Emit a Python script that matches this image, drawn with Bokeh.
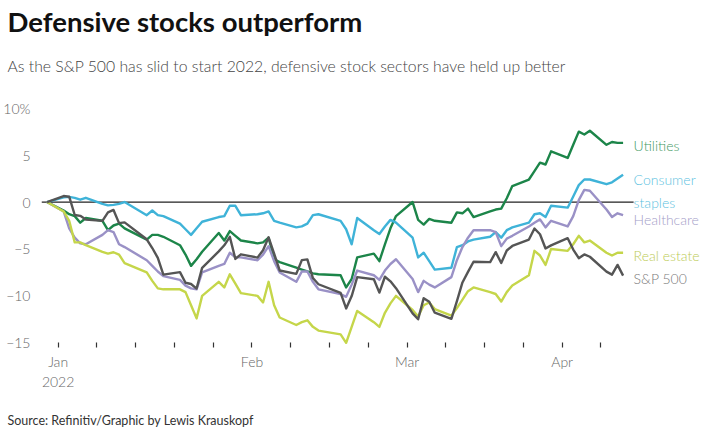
import pandas as pd
from bokeh.plotting import figure
from bokeh.models import FixedTicker, Range1d, Title, ColumnDataSource
from bokeh.core.properties import value
from bokeh.embed import file_html
from bokeh.resources import INLINE

# ---------------- data ----------------
dates = [
    "2021-12-31",
    "2022-01-03", "2022-01-04", "2022-01-05", "2022-01-06", "2022-01-07",
    "2022-01-10", "2022-01-11", "2022-01-12", "2022-01-13", "2022-01-14",
    "2022-01-18", "2022-01-19", "2022-01-20", "2022-01-21",
    "2022-01-24", "2022-01-25", "2022-01-26", "2022-01-27", "2022-01-28",
    "2022-01-31",
    "2022-02-01", "2022-02-02", "2022-02-03", "2022-02-04",
    "2022-02-07", "2022-02-08", "2022-02-09", "2022-02-10", "2022-02-11",
    "2022-02-14", "2022-02-15", "2022-02-16", "2022-02-17", "2022-02-18",
    "2022-02-22", "2022-02-23", "2022-02-24", "2022-02-25",
    "2022-02-28",
    "2022-03-01", "2022-03-02", "2022-03-03", "2022-03-04",
    "2022-03-07", "2022-03-08", "2022-03-09", "2022-03-10", "2022-03-11",
    "2022-03-14", "2022-03-15", "2022-03-16", "2022-03-17", "2022-03-18",
    "2022-03-21", "2022-03-22", "2022-03-23", "2022-03-24", "2022-03-25",
    "2022-03-28", "2022-03-29", "2022-03-30", "2022-03-31",
    "2022-04-01",
    "2022-04-04", "2022-04-05", "2022-04-06", "2022-04-07", "2022-04-08",
    "2022-04-11", "2022-04-12", "2022-04-13", "2022-04-14",
]

utilities = [
    0.0,
    -0.9, -1.3, -1.5, -2.2, -1.7,
    -2.0, -3.0, -2.5, -2.3, -2.8,
    -4.0, -3.5, -3.5, -3.7,
    -4.6, -5.6, -6.8, -6.1, -5.3,
    -3.3,
    -4.1, -3.1, -3.6, -4.1,
    -4.4, -4.3, -3.8, -6.1, -6.4,
    -7.0, -7.2, -7.4, -7.6, -7.7,
    -7.8, -9.1, -8.2, -5.9,
    -5.5,
    -6.3, -4.5, -2.8, -1.5,
    0.0, -1.9, -2.4, -1.8, -2.0,
    -2.2, -1.1, -1.2, -0.7, -1.6,
    -1.0, -0.8, -0.7, 0.4, 1.7,
    2.4, 3.3, 4.2, 4.0,
    5.4,
    4.7, 6.1, 7.5, 7.2, 7.6,
    6.1, 6.4, 6.3, 6.3,
]

consumer_staples = [
    0.0,
    0.5, 0.55, 0.45, 0.25, 0.45,
    -0.2, -0.35, -0.3, -0.2, 0.0,
    -1.4, -0.9, -1.4, -1.5,
    -2.3, -2.9, -3.5, -2.8, -2.1,
    -1.6,
    -1.5, -0.4, -0.4, -1.4,
    -1.3, -1.2, -1.0, -2.0, -2.2,
    -2.7, -2.6, -2.3, -1.4, -1.3,
    -2.0, -2.9, -4.5, -1.7,
    -3.0,
    -3.4, -2.6, -1.9, -2.2,
    -3.8, -5.9, -5.4, -6.3, -7.2,
    -7.0, -4.8, -4.6, -4.2, -4.0,
    -3.7, -3.2, -3.8, -3.0, -2.7,
    -2.2, -1.3, -1.2, -1.6,
    -0.4,
    -0.6, 0.6, 1.8, 2.4, 2.4,
    1.9, 2.1, 2.5, 2.9,
]

healthcare = [
    0.0,
    -1.0, -2.8, -3.8, -4.4, -4.5,
    -3.5, -3.0, -3.2, -4.5, -4.8,
    -6.2, -6.8, -7.4, -7.9,
    -8.3, -8.9, -9.2, -9.3, -7.5,
    -6.8,
    -6.6, -5.4, -5.9, -5.9,
    -6.2, -5.6, -4.7, -6.3, -7.5,
    -8.5, -7.4, -7.4, -8.5, -9.3,
    -9.8, -10.1, -8.8, -7.3,
    -7.8,
    -8.3, -7.3, -6.6, -6.1,
    -8.2, -9.6, -8.4, -8.8, -9.1,
    -8.0, -6.2, -4.8, -3.8, -3.0,
    -3.0, -3.2, -4.7, -3.9, -3.6,
    -2.6, -2.2, -1.85, -2.7,
    -2.0,
    -2.6, -1.5, 0.2, 1.3, 1.2,
    -0.8, -1.6, -1.2, -1.4,
]

real_estate = [
    0.0,
    -1.0, -2.0, -4.3, -4.3, -4.6,
    -5.3, -5.5, -5.35, -5.6, -6.5,
    -7.5, -8.4, -9.2, -9.3,
    -9.3, -9.6, -11.0, -12.4, -10.0,
    -8.5,
    -9.1, -7.7, -8.7, -9.7,
    -10.0, -10.7, -8.5, -11.0, -12.3,
    -13.1, -12.8, -12.6, -13.3, -13.7,
    -14.1, -15.0, -13.3, -11.6,
    -12.8,
    -13.3, -11.8, -10.8, -10.0,
    -11.5, -12.2, -11.0, -10.7, -11.4,
    -12.1, -11.3, -10.4, -9.5, -9.1,
    -9.6, -9.8, -10.6, -9.6, -8.9,
    -7.8, -5.2, -5.7, -6.7,
    -5.0,
    -5.2, -4.5, -3.6, -4.3, -4.1,
    -5.4, -5.7, -5.4, -5.4,
]

sp500 = [
    0.0,
    0.64, 0.57, -1.38, -1.47, -1.87,
    -2.01, -1.11, -0.84, -2.25, -2.17,
    -3.97, -4.90, -5.95, -7.73,
    -7.47, -8.60, -8.73, -9.22, -7.01,
    -5.26,
    -4.61, -3.71, -6.06, -5.57,
    -5.92, -5.13, -3.76, -5.50, -7.29,
    -7.65, -6.19, -6.11, -8.10, -8.76,
    -9.68, -11.34, -10.02, -8.00,
    -8.23,
    -9.65, -7.96, -8.45, -9.18,
    -11.86, -12.49, -10.24, -10.63, -11.79,
    -12.44, -10.57, -8.57, -7.44, -6.36,
    -6.40, -5.34, -6.50, -5.16, -4.68,
    -4.00, -2.82, -3.43, -4.95,
    -4.62,
    -3.85, -5.06, -5.98, -5.58, -5.83,
    -7.42, -7.74, -6.70, -7.84,
]

series_names = ["Utilities", "Consumer\nstaples", "Healthcare", "Real estate", "S&P 500"]
series_values = [utilities, consumer_staples, healthcare, real_estate, sp500]

tick_dates = ["2022-01-02", "2022-01-09", "2022-01-16", "2022-01-23", "2022-01-30",
              "2022-02-06", "2022-02-13", "2022-02-20", "2022-02-27",
              "2022-03-06", "2022-03-13", "2022-03-20", "2022-03-27",
              "2022-04-03", "2022-04-10"]
month_labels = {"2022-01-02": "Jan\n2022", "2022-02-06": "Feb",
                "2022-03-06": "Mar", "2022-04-03": "Apr"}
y_ticks = [-15, -10, -5, 0, 5, 10]
y_tick_labels = ["\u221215", "\u221210", "\u22125", "0", "5", "10%"]

title_text = "Defensive stocks outperform"
subtitle_text = "As the S&P 500 has slid to start 2022, defensive stock sectors have held up better"
source_text = "Source: Refinitiv/Graphic by Lewis Krauskopf"

# ---------------- styles ----------------
line_colors = ["#1c8549", "#3fb3d8", "#9a91c6", "#c5d64a", "#555555"]
label_colors = ["#3f9a63", "#5cbfe0", "#a49ec8", "#bccb55", "#7a7a7a"]
label_nudge = [-0.3, -1.7, -0.45, -0.25, -0.36]   # label offset from last value

origin = pd.Timestamp("2022-01-02")
def days(d):
    return (pd.Timestamp(d) - origin).days

x = [days(d) for d in dates]
ticks = [days(d) for d in tick_dates]

FONT = "Lato"
LIGHT = "Lato Light"
frame_left = 30
fig_w, fig_h = 710, 427
px_per_day = 5.63
x_start = x[0] - 1.0
x_end = x_start + (fig_w - frame_left) / px_per_day

p = figure(width=fig_w, height=fig_h, output_backend="svg", toolbar_location=None,
           x_range=Range1d(x_start, x_end), y_range=Range1d(-15.5, 10.5),
           min_border_left=frame_left, min_border_right=0,
           min_border_top=103, min_border_bottom=78)
p.outline_line_color = None
p.grid.visible = False
p.background_fill_color = "white"
p.border_fill_color = "white"

# axes
p.xaxis.ticker = FixedTicker(ticks=ticks)
p.xaxis.major_label_overrides = {t: month_labels.get(d, "") for t, d in zip(ticks, tick_dates)}
p.xaxis.axis_line_color = None
p.xaxis.major_tick_in = 5
p.xaxis.major_tick_out = 0
p.xaxis.major_tick_line_color = "#333333"
p.xaxis.major_tick_line_width = 1.2
p.xaxis.minor_tick_line_color = None
p.xaxis.major_label_standoff = 5
p.xaxis.major_label_text_font = LIGHT
p.xaxis.major_label_text_font_size = "14px"
p.xaxis.major_label_text_color = "#666666"

p.yaxis.ticker = FixedTicker(ticks=y_ticks)
p.yaxis.major_label_overrides = dict(zip(y_ticks, y_tick_labels))
p.yaxis.axis_line_color = None
p.yaxis.major_tick_line_color = None
p.yaxis.minor_tick_line_color = None
p.yaxis.major_label_standoff = 5
p.yaxis.major_label_text_font = LIGHT
p.yaxis.major_label_text_font_size = "14px"
p.yaxis.major_label_text_color = "#666666"

# zero line
p.line([x_start, x[-1] + 1.9], [0, 0], line_color="#222222", line_width=1.2)

# series
for vals, col in zip(series_values, line_colors):
    p.line(x, vals, line_color=col, line_width=2.4, line_join="round")

# end labels
lab = ColumnDataSource(dict(
    x=[x[-1] + 1.9] * len(series_names),
    y=[v[-1] + n for v, n in zip(series_values, label_nudge)],
    text=series_names,
    color=label_colors,
))
p.text(x="x", y="y", text="text", source=lab, text_color="color",
       text_font=value(LIGHT), text_font_size="14px", text_baseline="middle",
       text_align="left", text_line_height=1.35)

# titles (spacers are blank titles that only hold vertical room)
off = -frame_left - 4
p.add_layout(Title(text=" ", text_font_size="2px", standoff=9), "above")
p.add_layout(Title(text=subtitle_text, align="left", offset=off, text_font=LIGHT,
                   text_font_style="normal", text_font_size="15.75px",
                   text_color="#444444", standoff=32), "above")
p.add_layout(Title(text=title_text, align="left", offset=off, text_font=FONT,
                   text_font_style="bold", text_font_size="27.5px",
                   text_color="#111111", standoff=0), "above")
p.add_layout(Title(text=" ", text_font_size="2px", standoff=14), "below")
p.add_layout(Title(text=source_text, align="left", offset=off, text_font=FONT,
                   text_font_style="normal", text_font_size="12.5px",
                   text_color="#333333", standoff=0), "below")

open("out.html", "w").write(file_html(p, INLINE))
